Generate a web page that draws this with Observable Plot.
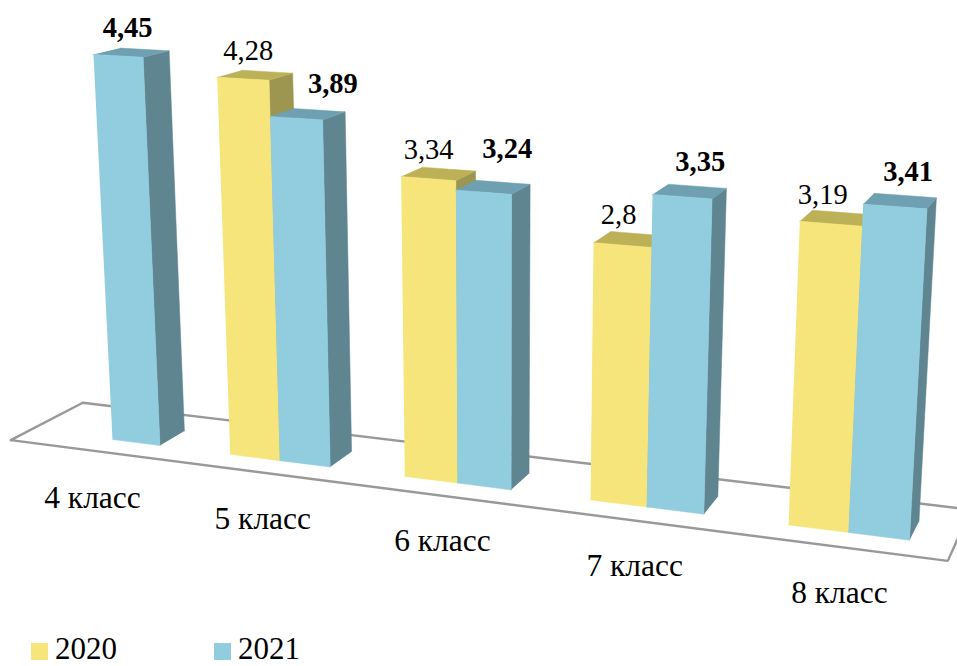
<!DOCTYPE html>
<html><head><meta charset="utf-8">
<script src="https://cdn.jsdelivr.net/npm/d3@7"></script>
<script src="https://cdn.jsdelivr.net/npm/@observablehq/plot@0.6"></script>
<style>
html,body{margin:0;padding:0;background:#fff;overflow:hidden}
svg{display:block}
#legend{position:relative;height:30px;font:31px "Liberation Serif",serif;color:#000}
#legend span{position:absolute;top:1px;line-height:24px}
#legend i{position:absolute;top:7px;width:17px;height:17px}
</style></head><body>
<div id="chart"></div>
<div id="legend"></div>
<script>
const categories = ["4 класс","5 класс","6 класс","7 класс","8 класс"];
const years = ["2020","2021"];
const values2020 = [null,4.28,3.34,2.8,3.19];
const values2021 = [4.45,3.89,3.24,3.35,3.41];
const labels2020 = ["", "4,28","3,34","2,8","3,19"];
const labels2021 = ["4,45","3,89","3,24","3,35","3,41"];

// styling
const W = 957, H = 636;
const palette = {
  "2020": {front:"#f6e57a", top:"#bdb158", side:"#9d9650"},
  "2021": {front:"#92cddf", top:"#6fa0b1", side:"#5f8590"}
};
const barW = 0.29;
const floorT = [-0.505, 4.5], floorW = [-0.76, 1.96];
const label20 = {dx:[0,-7,-10,-12,-14], dy:[0,-24,-24,-24,-23]};
const label21 = {dx:[-4,25,14,10.5,8], dy:[-25,-30,-38,-30,-29]};
const catDx = [-20,-17,-15,-12,-9];
const catDy = [58,58,58,59,60];

// perspective camera: t along the floor, v value, w depth
const m = 0.0217, vpx = 1300, vpy = -230;
function proj(t, v, w) {
  const X = 112 + 159.06*t - 5.25*v + m*vpx*w;
  const Y = 439 + 7.6*t - 87.1*v + m*vpy*w;
  const Z = 1 - 0.0294*t - 0.0105*v + m*w;
  return [X/Z, Y/Z];
}

const faces = [];
function face(id, color, pts) {
  for (const [t,v,w] of pts) { const [x,y] = proj(t,v,w); faces.push({id, color, x, y}); }
}
categories.forEach((c,i) => {
  [[values2020[i], i-barW, "2020"], [values2021[i], i, "2021"]].forEach(([v,t0,yr]) => {
    if (v == null) return;
    const t1 = t0 + barW, col = palette[yr], id = c + yr;
    face(id+"s", col.side, [[t1,0,0],[t1,v,0],[t1,v,1],[t1,0,1]]);
    face(id+"t", col.top,  [[t0,v,0],[t1,v,0],[t1,v,1],[t0,v,1]]);
    face(id+"f", col.front,[[t0,0,0],[t1,0,0],[t1,v,0],[t0,v,0]]);
  });
});

const floor = [[floorT[0],floorW[0]],[floorT[1],floorW[0]],[floorT[1],floorW[1]],[floorT[0],floorW[1]],[floorT[0],floorW[0]]]
  .map(([t,w]) => { const [x,y] = proj(t,0,w); return {x,y}; });

const text20 = [], text21 = [], textCat = [];
categories.forEach((c,i) => {
  if (values2020[i] != null) {
    const [x,y] = proj(i-barW/2, values2020[i], 0.5);
    text20.push({x:x+label20.dx[i], y:y+label20.dy[i], s:labels2020[i]});
  }
  const [x,y] = proj(i+barW/2, values2021[i], 0.5);
  text21.push({x:x+label21.dx[i], y:y+label21.dy[i], s:labels2021[i]});
  const [cx,cy] = proj(i,0,0);
  textCat.push({x:cx+catDx[i], y:cy+catDy[i], s:c});
});

const font = '"Liberation Serif", serif';
const chart = Plot.plot({
  width: W, height: H, margin: 0,
  x: {domain:[0,W], range:[0,W], axis:null},
  y: {domain:[0,H], range:[0,H], axis:null},
  color: {type:"identity"},
  style: {background:"#fff"},
  marks: [
    Plot.line(floor, {x:"x", y:"y", stroke:"#999999", strokeWidth:2.4, strokeLinejoin:"miter"}),
    Plot.line(faces, {x:"x", y:"y", z:"id", fill:"color", stroke:"color", strokeWidth:0.5}),
    Plot.text(text20, {x:"x", y:"y", text:"s", fontSize:28.5, fontFamily:font, fill:"#000"}),
    Plot.text(text21, {x:"x", y:"y", text:"s", fontSize:28.5, fontFamily:font, fontWeight:"bold", fill:"#000"}),
    Plot.text(textCat, {x:"x", y:"y", text:"s", fontSize:31.5, fontFamily:font, fill:"#000"})
  ]
});
document.getElementById("chart").append(chart);

const legend = document.getElementById("legend");
[[31,55],[214,238]].forEach(([sx,tx],k) => {
  const yr = years[k];
  const sw = document.createElement("i");
  sw.style.left = sx+"px"; sw.style.background = palette[yr].front;
  const tt = document.createElement("span");
  tt.style.left = tx+"px"; tt.textContent = yr;
  legend.append(sw, tt);
});
</script>
</body></html>
